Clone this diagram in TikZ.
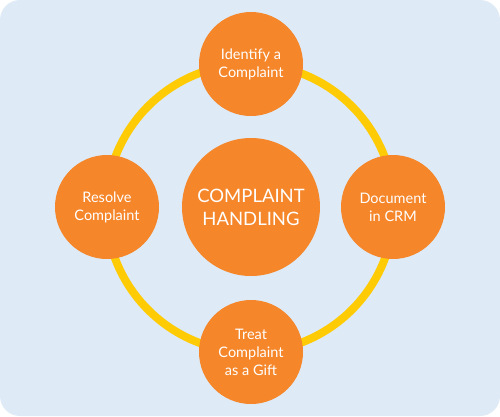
\documentclass[tikz,border=0pt]{standalone}
\usepackage{fontspec}
\setmainfont{Lato}
\usepackage{xcolor}
\usetikzlibrary{positioning}

\definecolor{panel}{HTML}{DEEBF7}
\definecolor{ringyellow}{HTML}{FFCB05}
\definecolor{stepfill}{HTML}{F5862A}

\begin{document}
\begin{tikzpicture}[x=1pt, y=-1pt,
    stage/.style={circle, fill=stepfill, minimum size=104pt, inner sep=0, text=white, align=center, font=\fontsize{14.5}{18}\selectfont},
    hub/.style={circle, fill=stepfill, minimum size=138pt, inner sep=0, text=white, align=center, font=\fontsize{18.5}{23}\selectfont}]
    \fill[white] (0,0) rectangle (500,416);
    \fill[panel, rounded corners=20pt] (0,0) rectangle (500,416);

    \coordinate (o) at (250,208);
    \draw[ringyellow, line width=8pt] (o) circle[radius=144];

    \node[hub] (handling) at (251,207) {COMPLAINT\\HANDLING};
    \node[stage] (identify) at (251,64) {Identify a\\Complaint};
    \node[stage] (document) at (393,207) {Document\\in CRM};
    \node[stage] (treat) at (251,352) {Treat\\Complaint\\as a Gift};
    \node[stage] (resolve) at (107,207) {Resolve\\Complaint};
\end{tikzpicture}
\end{document}
